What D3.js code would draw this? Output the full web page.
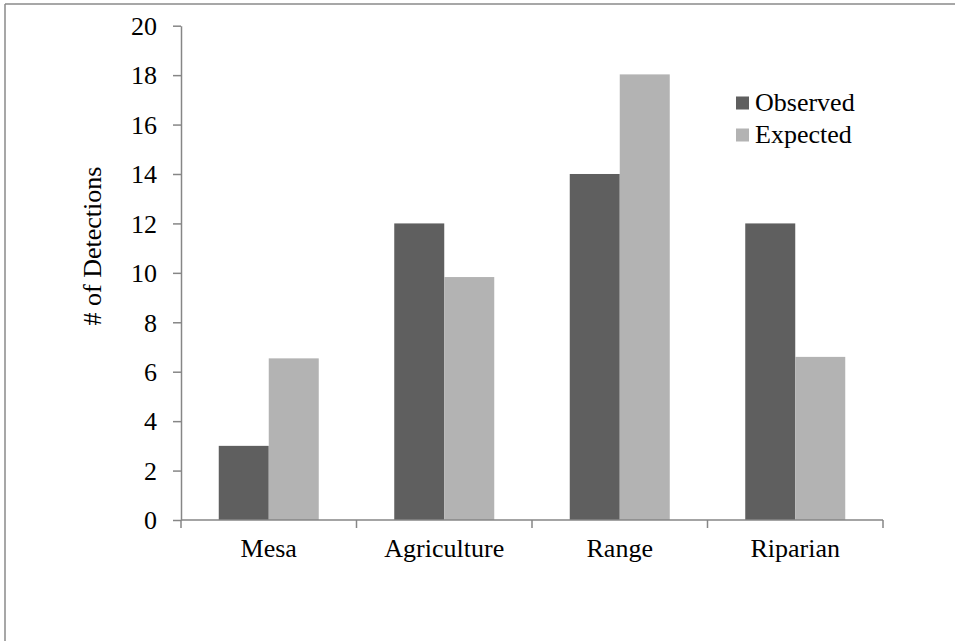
<!DOCTYPE html>
<html><head><meta charset="utf-8">
<script src="https://cdn.jsdelivr.net/npm/d3@7"></script>
<style>
body{margin:0;background:#fff}
svg{display:block}
svg text{font-family:"Liberation Serif","Times New Roman","DejaVu Serif",serif;fill:#000}
</style>
</head><body>
<script>
const categories = ["Mesa", "Agriculture", "Range", "Riparian"];
const observed = [3, 12, 14, 12];
const expected = [6.54, 9.83, 18.03, 6.6];
const seriesNames = ["Observed", "Expected"];
const seriesColors = ["#5f5f5f", "#b3b3b3"];
const yTicks = [0, 2, 4, 6, 8, 10, 12, 14, 16, 18, 20];

const W = 955, H = 641;
const FS = 26;
const svg = d3.select("body").append("svg").attr("width", W).attr("height", H);

// outer frame (top and left edges visible)
svg.append("line").attr("x1", 5).attr("x2", W).attr("y1", 4).attr("y2", 4)
  .attr("stroke", "#8a8a8a").attr("stroke-width", 1.5);
svg.append("line").attr("x1", 5).attr("x2", 5).attr("y1", 4).attr("y2", H)
  .attr("stroke", "#8a8a8a").attr("stroke-width", 1.5);

const x0 = d3.scaleBand().domain(categories).range([181, 883]);
const y = d3.scaleLinear().domain([0, 20]).range([520, 25.7]);
const groupW = 100;
const x1 = d3.scaleBand().domain(seriesNames).range([0, groupW]);

const rows = categories.map((c, i) => ({ cat: c, vals: [observed[i], expected[i]] }));

svg.append("g").selectAll("g.cat").data(rows).join("g")
  .attr("transform", d => `translate(${x0(d.cat) + (x0.bandwidth() - groupW) / 2},0)`)
  .selectAll("rect").data(d => d.vals.map((v, j) => ({ v, j })))
  .join("rect")
  .attr("x", d => x1(seriesNames[d.j]))
  .attr("width", x1.bandwidth())
  .attr("y", d => y(d.v))
  .attr("height", d => y(0) - y(d.v))
  .attr("fill", d => seriesColors[d.j]);

// y axis
const yAxis = svg.append("g").attr("transform", "translate(181,0)")
  .call(d3.axisLeft(y).tickValues(yTicks).tickSize(8).tickPadding(16).tickSizeOuter(0));
yAxis.attr("font-family", null).attr("font-size", FS);
yAxis.selectAll(".tick text").attr("dy", "0.34em");
yAxis.select(".domain").attr("stroke", "#868686").attr("stroke-width", 1.5);
yAxis.selectAll(".tick line").attr("stroke", "#868686").attr("stroke-width", 1.5);

// x axis with ticks at category boundaries
const xAxisG = svg.append("g").attr("transform", "translate(0,520)");
xAxisG.append("line").attr("x1", 181).attr("x2", 883).attr("stroke", "#868686").attr("stroke-width", 1.5);
const bounds = categories.map(c => x0(c)).concat([x0(categories[categories.length - 1]) + x0.bandwidth()]);
xAxisG.selectAll("line.tk").data(bounds).join("line").attr("class", "tk")
  .attr("x1", d => d).attr("x2", d => d).attr("y1", 0).attr("y2", 8)
  .attr("stroke", "#868686").attr("stroke-width", 1.5);
xAxisG.selectAll("text").data(categories).join("text")
  .attr("x", d => x0(d) + x0.bandwidth() / 2).attr("y", 37)
  .attr("text-anchor", "middle").attr("font-size", FS)
  .text(d => d);

// y axis title
svg.append("text").attr("transform", "translate(101,246) rotate(-90)")
  .attr("text-anchor", "middle").attr("font-size", FS)
  .text("# of Detections");

// legend
const leg = svg.append("g").attr("transform", "translate(736,103)");
seriesNames.forEach((n, i) => {
  leg.append("rect").attr("x", 0).attr("y", i * 32 - 6.5).attr("width", 13).attr("height", 13).attr("fill", seriesColors[i]);
  leg.append("text").attr("x", 19).attr("y", i * 32 + 8).attr("font-size", FS).text(n);
});
</script>
</body></html>
